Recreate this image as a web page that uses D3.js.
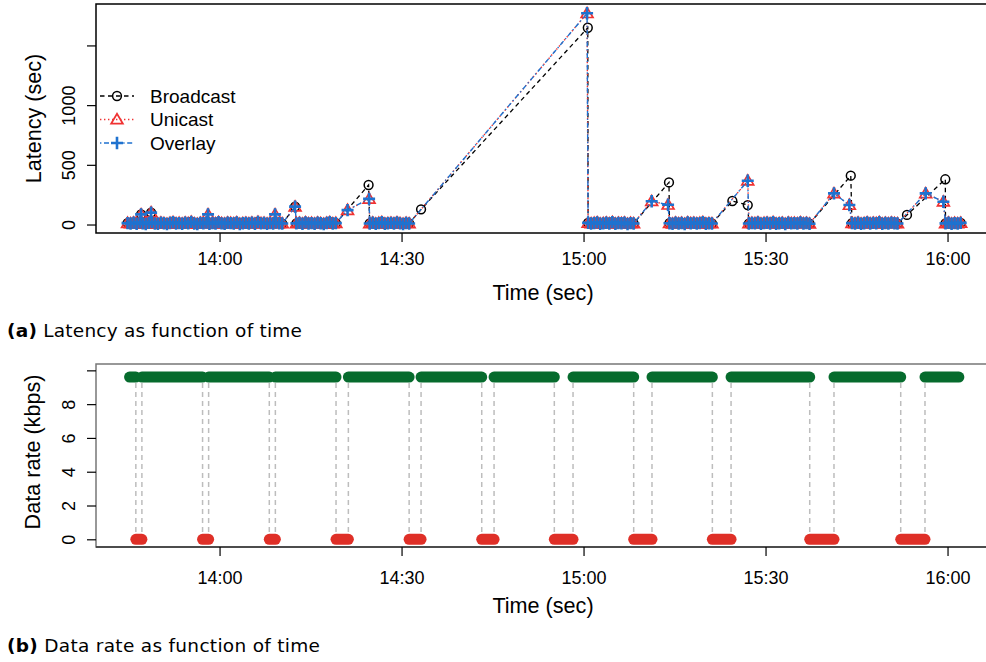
<!DOCTYPE html>
<html><head><meta charset="utf-8">
<script src="https://cdn.jsdelivr.net/npm/d3@7"></script>
<style>body{margin:0;background:#fff} svg{display:block}</style>
</head><body><svg id="c" width="986" height="662"></svg>
<script>
// ---------------- data ----------------
const xTickLabels = ["14:00","14:30","15:00","15:30","16:00"];
const latencyTicks = [0,500,1000,1500];
const latencyTickLabels = ["0","500","1000",""];
const rateTicks = [0,2,4,6,8,10];
const rateTickLabels = ["0","2","4","6","8",""];
const seriesNames = ["Broadcast","Unicast","Overlay"];

// near-zero latency periods: start time + one reading every 30 s
const bandStart = ["13:44:50","14:12:40","14:24:45","15:00:45","15:14:10","15:27:15","15:44:15","15:59:40"];
const bandStepSec = 30;
const bandLatency = [
  [12,8,15,6,18,10,4,14,20,9,7,16,11,5,13,19,8,12,6,15,10,22,9,5,14,11,17,7,13,8,20,10,6,15,12,9,18,5,11,14,8,16,7,21,10,13,6,12,9,17,11,8],
  [10,14,6,18,9,12,7,16,11,5,13,20,8,12],
  [9,15,7,12,19,6,11,14,8,17,10,5,13,9],
  [14,8,12,18,6,10,15,9,20,7,13,11,16,5,12,9],
  [11,7,16,9,13,5,18,10,14,8,12,20,6,11,9],
  [8,13,10,17,6,12,15,9,19,7,11,14,5,16,10,12,8,18,9,13,7],
  [12,9,15,6,11,18,8,14,10,20,7,13,9,16,11,8],
  [10,15,7,12,9,14]
];
// delayed deliveries after disconnections: [time, latency sec]
const broadcastSpikes = [["13:47:04",85],["13:48:43",100],["14:12:27",150],["14:24:34",331],["14:33:13",127],["15:00:42",1648],["15:14:05",353],["15:24:32",197],["15:27:04",163],["15:44:03",409],["15:53:19",80],["15:59:38",379]];
const unicastSpikes = [["13:47:04",85],["13:48:43",100],["13:58:06",85],["14:09:09",85],["14:12:27",150],["14:21:06",121],["14:24:39",215],["15:00:35",1769],["15:11:14",195],["15:13:56",165],["15:27:04",367],["15:41:17",261],["15:43:49",163],["15:56:24",261],["15:59:19",191]];
const overlaySpikes = [["13:47:04",85],["13:48:43",100],["13:58:06",85],["14:09:09",85],["14:12:27",150],["14:21:06",121],["14:24:39",215],["15:00:35",1769],["15:11:14",195],["15:13:56",165],["15:27:04",367],["15:41:17",261],["15:43:49",163],["15:56:24",261],["15:59:19",191]];

// data rate: connection on/off
const rateStart = "13:45:10";
const rateEnd = "16:01:52";
const offStart = ["13:46:12","13:57:12","14:08:12","14:19:12","14:31:15","14:43:13","14:55:11","15:08:16","15:21:14","15:37:17","15:52:17"];
const offEnd   = ["13:47:12","13:58:12","14:09:12","14:21:14","14:33:13","14:45:15","14:58:16","15:11:17","15:24:19","15:41:17","15:56:17"];
const rateHigh = 9.6;
const rateLow = 0;

// ---------------- drawing ----------------
const parseT = d3.timeParse("%H:%M:%S");
const svg = d3.select("#c");
const FONT = "'Liberation Sans', Arial, Helvetica, sans-serif";
const L = 96, R = 990;
const x = d3.scaleTime().domain([parseT("13:39:38"), parseT("16:07:00")]).range([L, R]);
const xTicks = xTickLabels.map(s => parseT(s + ":00"));

// ---- top chart ----
const T1 = 4, B1 = 233;
const yL = d3.scaleLinear().domain([-71, 1847]).range([B1, T1]);

svg.append("clipPath").attr("id","clip1").append("rect")
  .attr("x", L).attr("y", T1).attr("width", R-L).attr("height", B1-T1);

function bandPoints(){
  const pts = [];
  bandStart.forEach((s,i)=>{
    const t0 = parseT(s);
    bandLatency[i].forEach((v,j)=>pts.push({t:new Date(+t0 + j*bandStepSec*1000), v}));
  });
  return pts;
}
function buildSeries(spikes){
  return bandPoints().concat(spikes.map(([s,v])=>({t:parseT(s), v}))).sort((a,b)=>a.t-b.t);
}
const seriesData = [buildSeries(broadcastSpikes), buildSeries(unicastSpikes), buildSeries(overlaySpikes)];
const styles = [
  {color:"#000000", dash:"4.5,3.5", width:1.3},
  {color:"#f03232", dash:"1.4,2.6", width:1.4},
  {color:"#1f72cf", dash:"1.4,2.6,5,2.6", width:1.4}
];
const triPath = "M0,-5.8L5.9,4.2L-5.9,4.2Z";
const plusPath = "M-6,0H6M0,-6.2V6.2";
function drawMarker(g, k, px, py){
  if(k===0){
    g.append("circle").attr("cx",px).attr("cy",py).attr("r",4.4)
      .attr("fill","none").attr("stroke",styles[0].color).attr("stroke-width",1.5);
  } else if(k===1){
    g.append("path").attr("d",triPath).attr("transform",`translate(${px},${py})`)
      .attr("fill","none").attr("stroke",styles[1].color).attr("stroke-width",1.7);
  } else {
    g.append("path").attr("d",plusPath).attr("transform",`translate(${px},${py})`)
      .attr("fill","none").attr("stroke",styles[2].color).attr("stroke-width",2.6);
  }
}
const plot1 = svg.append("g").attr("clip-path","url(#clip1)");
const line = d3.line().x(d=>x(d.t)).y(d=>yL(d.v));
seriesData.forEach((data,k)=>{
  const g = plot1.append("g");
  g.append("path").datum(data).attr("d",line).attr("fill","none")
    .attr("stroke",styles[k].color).attr("stroke-width",styles[k].width)
    .attr("stroke-dasharray",styles[k].dash);
  data.forEach(d=>drawMarker(g,k,x(d.t),yL(d.v)));
});

// box
svg.append("rect").attr("x",L).attr("y",T1).attr("width",R-L+10).attr("height",B1-T1)
  .attr("fill","none").attr("stroke","#000").attr("stroke-width",1.5);

// axes
function styleAxis(g){
  g.select(".domain").remove();
  g.selectAll(".tick line").attr("stroke","#000").attr("stroke-width",1.2);
  g.selectAll(".tick text").attr("font-family",FONT).attr("font-size",18).attr("fill","#000");
}
const xAxis1 = svg.append("g").attr("transform",`translate(0,${B1})`)
  .call(d3.axisBottom(x).tickValues(xTicks).tickFormat((d,i)=>xTickLabels[i]).tickSize(9).tickSizeOuter(0));
styleAxis(xAxis1);
xAxis1.selectAll(".tick text").attr("y",31.5).attr("dy",0);

const yAxis1 = svg.append("g").attr("transform",`translate(${L},0)`)
  .call(d3.axisLeft(yL).tickValues(latencyTicks).tickFormat((d,i)=>latencyTickLabels[i]).tickSize(9).tickSizeOuter(0));
styleAxis(yAxis1);
yAxis1.selectAll(".tick text").attr("x",0).attr("dy",0).attr("y",-21.5)
  .attr("transform","rotate(-90)").attr("text-anchor","middle");

svg.append("text").attr("x",(L+R)/2).attr("y",300).attr("text-anchor","middle")
  .attr("font-family",FONT).attr("font-size",21.6).text("Time (sec)");
svg.append("text").attr("transform",`translate(41,${(T1+B1)/2}) rotate(-90)`).attr("text-anchor","middle")
  .attr("font-family",FONT).attr("font-size",21.6).text("Latency (sec)");

// legend
const legY = [96, 119.5, 143];
seriesNames.forEach((name,k)=>{
  const g = svg.append("g");
  g.append("line").attr("x1",100).attr("x2",134).attr("y1",legY[k]).attr("y2",legY[k])
    .attr("stroke",styles[k].color).attr("stroke-width",styles[k].width+0.2).attr("stroke-dasharray",styles[k].dash);
  drawMarker(g,k,117,legY[k]);
  g.append("text").attr("x",150).attr("y",legY[k]+6.8).attr("font-family",FONT).attr("font-size",19).text(name);
});

// caption (a)
const capA = svg.append("text").attr("x",7).attr("y",337).attr("font-family","'DejaVu Sans', sans-serif")
  .attr("font-size",18.5).attr("textLength",295).attr("lengthAdjust","spacing");
capA.append("tspan").attr("font-weight","bold").text("(a)");
capA.append("tspan").text(" Latency as function of time");

// ---- bottom chart ----
const T2 = 364, B2 = 547;
const yR = d3.scaleLinear().domain([-0.456, 10.376]).range([B2, T2]);
svg.append("clipPath").attr("id","clip2").append("rect")
  .attr("x", L).attr("y", T2).attr("width", R-L).attr("height", B2-T2);
const plot2 = svg.append("g").attr("clip-path","url(#clip2)");

// dashed guides
const allEdges = offStart.concat(offEnd).map(parseT);
plot2.selectAll("line.guide").data(allEdges).enter().append("line")
  .attr("x1",d=>x(d)).attr("x2",d=>x(d)).attr("y1",yR(rateHigh)+6).attr("y2",yR(rateLow)-6)
  .attr("stroke","#bdbdbd").attr("stroke-width",1.5).attr("stroke-dasharray","5,4");

const onSegs = [];
onSegs.push([parseT(rateStart), parseT(offStart[0])]);
for(let i=0;i<offStart.length-1;i++) onSegs.push([parseT(offEnd[i]), parseT(offStart[i+1])]);
onSegs.push([parseT(offEnd[offEnd.length-1]), parseT(rateEnd)]);
const offSegs = offStart.map((s,i)=>[parseT(s), parseT(offEnd[i])]);

plot2.selectAll("line.on").data(onSegs).enter().append("line")
  .attr("x1",d=>x(d[0])).attr("x2",d=>x(d[1])).attr("y1",yR(rateHigh)).attr("y2",yR(rateHigh))
  .attr("stroke","#066b2d").attr("stroke-width",11).attr("stroke-linecap","round");
plot2.selectAll("line.off").data(offSegs).enter().append("line")
  .attr("x1",d=>x(d[0])).attr("x2",d=>x(d[1])).attr("y1",yR(rateLow)).attr("y2",yR(rateLow))
  .attr("stroke","#df2f27").attr("stroke-width",11).attr("stroke-linecap","round");

svg.append("rect").attr("x",L).attr("y",T2).attr("width",R-L+10).attr("height",B2-T2)
  .attr("fill","none").attr("stroke","#777").attr("stroke-width",1.5);
svg.append("line").attr("x1",L).attr("x2",R).attr("y1",B2).attr("y2",B2).attr("stroke","#333").attr("stroke-width",1.5);

const xAxis2 = svg.append("g").attr("transform",`translate(0,${B2})`)
  .call(d3.axisBottom(x).tickValues(xTicks).tickFormat((d,i)=>xTickLabels[i]).tickSize(9).tickSizeOuter(0));
styleAxis(xAxis2);
xAxis2.selectAll(".tick text").attr("y",36.5).attr("dy",0);

const yAxis2 = svg.append("g").attr("transform",`translate(${L},0)`)
  .call(d3.axisLeft(yR).tickValues(rateTicks).tickFormat((d,i)=>rateTickLabels[i]).tickSize(9).tickSizeOuter(0));
styleAxis(yAxis2);
yAxis2.selectAll(".tick text").attr("x",0).attr("dy",0).attr("y",-21.5)
  .attr("transform","rotate(-90)").attr("text-anchor","middle");

svg.append("text").attr("x",(L+R)/2).attr("y",613).attr("text-anchor","middle")
  .attr("font-family",FONT).attr("font-size",21.6).text("Time (sec)");
svg.append("text").attr("transform",`translate(40,452) rotate(-90)`).attr("text-anchor","middle")
  .attr("font-family",FONT).attr("font-size",21.6).text("Data rate (kbps)");

const capB = svg.append("text").attr("x",7).attr("y",652).attr("font-family","'DejaVu Sans', sans-serif")
  .attr("font-size",18.5).attr("textLength",313).attr("lengthAdjust","spacing");
capB.append("tspan").attr("font-weight","bold").text("(b)");
capB.append("tspan").text(" Data rate as function of time");
</script></body></html>
